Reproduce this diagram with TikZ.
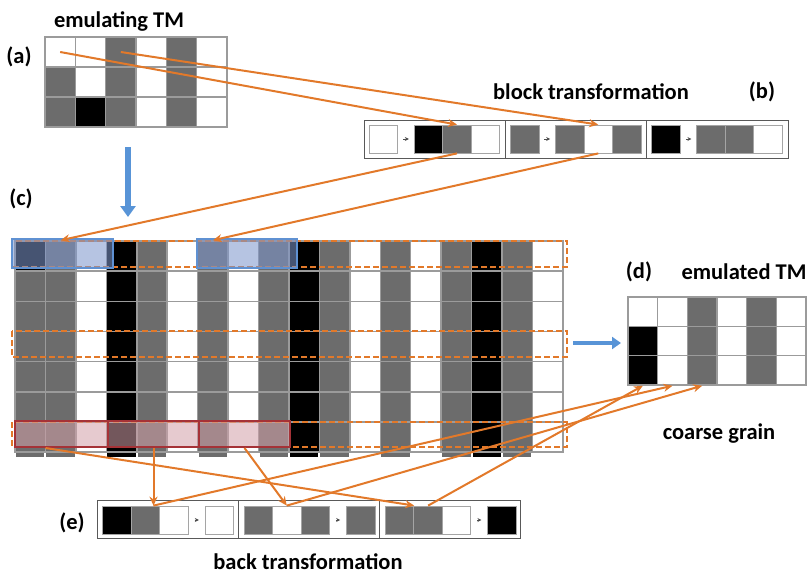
\documentclass[tikz,border=0pt]{standalone}
\usepackage{fontspec}
\setmainfont{Carlito}
\usetikzlibrary{arrows.meta}
\definecolor{cg}{RGB}{108,108,108}
\colorlet{cw}{white}
\colorlet{ck}{black}
\definecolor{gridline}{RGB}{155,155,155}
\definecolor{linkorange}{RGB}{226,121,42}
\definecolor{boxblue}{RGB}{95,145,210}
\definecolor{tintblue}{RGB}{125,150,205}
\definecolor{boxred}{RGB}{165,50,55}
\definecolor{tintred}{RGB}{210,160,168}
\definecolor{fatblue}{RGB}{88,148,215}
\tikzset{
  acell/.style={draw=gridline, line width=1.5pt, minimum width=30.33pt, minimum height=30pt, inner sep=0pt},
  bigcell/.style={acell, minimum width=30.44pt, minimum height=30.15pt},
  dcell/.style={acell, minimum width=29.67pt, minimum height=29.33pt},
  scell/.style={draw=gridline!90, line width=0.8pt, minimum width=28.5pt, minimum height=28pt, inner sep=0pt},
  stripline/.style={draw=black!65, line width=0.8pt},
  tinyarrow/.style={draw=black!70, line width=0.9pt, -{Stealth[length=4pt,width=4pt]}},
  link/.style={draw=linkorange, line width=2pt, -{Stealth[length=9pt,width=8pt]}},
  dashbox/.style={draw=linkorange, line width=1.8pt, dash pattern=on 6pt off 3pt},
  bluebox/.style={draw=boxblue, line width=2pt, fill=tintblue, fill opacity=0.56, inner sep=0pt},
  redbox/.style={draw=boxred, line width=2pt, fill=tintred, fill opacity=0.55, inner sep=0pt},
  fatarrow/.style={draw=fatblue, line width=6pt, -{Triangle[width=15pt,length=11pt]}},
  headtext/.style={font=\fontsize{22.5}{26}\selectfont\bfseries, inner sep=0pt}
}
\begin{document}
\begin{tikzpicture}[x=1pt,y=-1pt]
\useasboundingbox (0,0) rectangle (809,576);
% (a) emulating TM
\foreach \r/\row in {1/{cw,cw,cg,cw,cg,cw},2/{cg,cw,cg,cw,cg,cw},3/{cg,ck,cg,cw,cg,cw}}
  \foreach \f [count=\c] in \row
    \node[acell,fill=\f] (a-\r-\c) at ({45+30.33*(\c-0.5)},{37+30*(\r-0.5)}) {};
% (b) block transformation
\draw[stripline] (364,120) rectangle (788,158);
\foreach \s in {505.3,646.6} \draw[stripline] (\s,120) -- (\s,158);
\foreach \k/\i/\o in {1/cw/{ck,cg,cw},2/cg/{cg,cw,cg},3/ck/{cg,cg,cw}} {
  \node[scell,fill=\i] (b-\k-0) at ({364+141.3*(\k-1)+19.5},139) {};
  \foreach \f [count=\j] in \o
    \node[scell,fill=\f] (b-\k-\j) at ({364+141.3*(\k-1)+64.5+28.5*(\j-1)},139) {};
  \draw[tinyarrow, shorten <=5pt, shorten >=5pt] (b-\k-0) -- (b-\k-1);
}
% (c) emulating CA
\foreach \f [count=\c] in {ck,cg,cw,ck,cg,cw,cg,cw,cg,ck,cg,cw,cg,cw,cg,ck,cg,cw}
  \node[bigcell,fill=\f] (c-1-\c) at ({15+30.44*(\c-0.5)},{241+30.15*0.5}) {};
\foreach \r in {2,...,7}
  \foreach \f [count=\c] in {cg,cg,cw,ck,cg,cw,cg,cw,cg,ck,cg,cw,cg,cw,cg,ck,cg,cw}
    \node[bigcell,fill=\f] (c-\r-\c) at ({15+30.44*(\c-0.5)},{241+30.15*(\r-0.5)}) {};
\foreach \f [count=\c] in {cg,cg,cw,ck,cg,cw,cg,cw,cg,ck,cg,cw,cg,cw,cg,ck,cg,cw}
  \fill[fill=\f] ({15+30.44*(\c-1)+1},453) rectangle ++(28.4,3.5);
\draw[dashbox] (12,241) rectangle (567,267);
\draw[dashbox] (12,331) rectangle (567,357);
\draw[dashbox] (12,422) rectangle (567,447);
\node[bluebox, minimum width=101pt, minimum height=29pt] (blue1) at (62.5,253.5) {};
\node[bluebox, minimum width=100pt, minimum height=29pt] (blue2) at (247,253.5) {};
\node[redbox, minimum width=93pt, minimum height=26pt] (red1) at (61.5,434) {};
\node[redbox, minimum width=91pt, minimum height=26pt] (red2) at (153.5,434) {};
\node[redbox, minimum width=91pt, minimum height=26pt] (red3) at (244.5,434) {};
% (d) emulated TM
\foreach \r/\row in {1/{cw,cw,cg,cw,cg,cw},2/{ck,cw,cg,cw,cg,cw},3/{ck,cw,cg,cw,cg,cw}}
  \foreach \f [count=\c] in \row
    \node[dcell,fill=\f] (d-\r-\c) at ({628+29.67*(\c-0.5)},{297+29.33*(\r-0.5)}) {};
% (e) back transformation
\draw[stripline] (97,500) rectangle (520,538);
\foreach \s in {238,379.5} \draw[stripline] (\s,500) -- (\s,538);
\foreach \k/\i/\o in {1/{ck,cg,cw}/cw,2/{cg,cw,cg}/cg,3/{cg,cg,cw}/ck} {
  \foreach \f [count=\j] in \i
    \node[scell,fill=\f] (e-\k-\j) at ({97+141.3*(\k-1)+20+28.5*(\j-1)},520) {};
  \node[scell,fill=\o] (e-\k-4) at ({97+141.3*(\k-1)+122.5},520) {};
  \draw[tinyarrow, shorten <=6pt, shorten >=6pt] (e-\k-3) -- (e-\k-4);
}
% connectors
\draw[link] (a-1-1.center) -- (b-1-2.north);
\draw[link] (a-1-3.center) -- (b-2-2.north);
\draw[link] (b-1-2.south) -- (c-1-2.north);
\draw[link] (b-2-2.south) -- (c-1-7.north);
\coordinate (eone) at (red2.south |- e-1-2.north);
\draw[link] ([xshift=-16pt]red1.south) -- (e-3-1.north east);
\draw[link] (red2.south) -- (eone);
\draw[link] (red3.south) -- (e-2-2.north);
\draw[link] (eone) -- (d-3-2.south);
\draw[link] (e-2-2.north) -- (d-3-3.south);
\draw[link] (e-3-2.north) -- (d-3-1.south);
\coordinate (dn1) at (128,147);
\coordinate (dn2) at (128,217);
\draw[fatarrow] (dn1) -- (dn2);
\coordinate (rt1) at (573,343);
\coordinate (rt2) at (621,343);
\draw[fatarrow, line width=4.5pt, -{Triangle[width=12pt,length=9pt]}] (rt1) -- (rt2);
% labels
\node[headtext] (tA) at (119,21) {emulating TM};
\node[headtext] (la) at (19,57) {(a)};
\node[headtext] (tB) at (591,92) {block transformation};
\node[headtext] (lb) at (762,92) {(b)};
\node[headtext] (lc) at (21,199) {(c)};
\node[headtext] (ld) at (639,272) {(d)};
\node[headtext] (tD) at (744,272) {emulated TM};
\node[headtext] (tC) at (719,434) {coarse grain};
\node[headtext] (le) at (72,523) {(e)};
\node[headtext] (tE) at (308,562) {back transformation};
\end{tikzpicture}
\end{document}
